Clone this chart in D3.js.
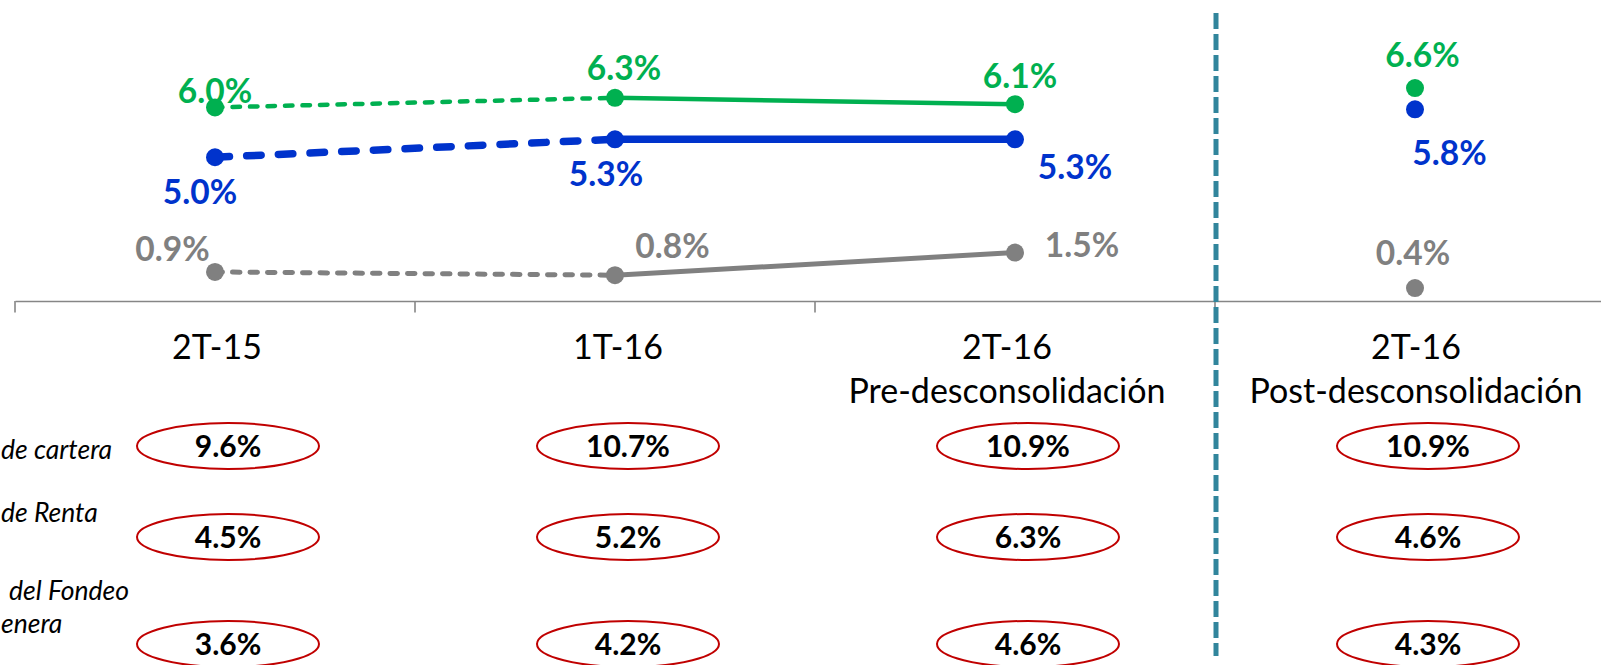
<!DOCTYPE html>
<html>
<head>
<meta charset="utf-8">
<script src="https://cdn.jsdelivr.net/npm/d3@7"></script>
<style>
  html, body { margin: 0; padding: 0; background: #ffffff; }
  svg { display: block; }
</style>
</head>
<body>
<svg id="chart" width="1601" height="665"></svg>
<script>
// Categories: the first word is the period, the rest (if any) a second line.
const categories = ["2T-15", "1T-16", "2T-16 Pre-desconsolidación", "2T-16 Post-desconsolidación"];

// Line series (%)
const greenValues = [6.0, 6.3, 6.1, 6.6];
const blueValues  = [5.0, 5.3, 5.3, 5.8];
const greyValues  = [0.9, 0.8, 1.5, 0.4];

// Table rows beneath the axis (%)
const rowLabels = [["de cartera"], ["de Renta"], ["del Fondeo", "enera"]];
const carteraValues = [9.6, 10.7, 10.9, 10.9];
const rentaValues   = [4.5, 5.2, 6.3, 4.6];
const fondeoValues  = [3.6, 4.2, 4.6, 4.3];

// ---- layout ----
const W = 1601, H = 665;
const svg = d3.select("#chart");
const FONT = "Lato, 'Open Sans', sans-serif";
const COLORS = { green: "#00B050", blue: "#0033CC", grey: "#808080" };

const x = d3.scaleBand().domain(categories).range([15, 1615]).padding(0);
const cx = d => x(d) + x.bandwidth() / 2;

// primary axis (green, grey) and secondary axis (blue)
const y  = d3.scaleLinear().domain([0, 7]).range([301, 75.2]);
const y2 = d3.scaleLinear().domain([2.6, 6.37]).range([301, 75.2]);

// segment styles between consecutive categories (last category stands alone)
const segmentDash = ["dashed", "solid"];

const seriesDefs = [
  { key: "grey",  values: greyValues,  scale: y,  width: 5,   dash: "7.5,10",   r: 9,
    nudges: [[-42.5, -10.5], [57.5, -17], [67, 4], [-2, -23]] },
  { key: "green", values: greenValues, scale: y,  width: 4.5, dash: "7.5,10",   r: 9,
    nudges: [[0, -4.5], [9, -17.3], [5, -16], [7.5, -21.6]] },
  { key: "blue",  values: blueValues,  scale: y2, width: 7.5, dash: "14.5,17.2", r: 9,
    nudges: [[-15, 46.5], [-9, 46.5], [60, 40], [34.5, 56]] }
];

// ---- category axis ----
const axisG = svg.append("g").attr("transform", `translate(0,${y(0)})`);
axisG.call(d3.axisBottom(x).tickSize(0).tickSizeOuter(0).tickFormat(""));
axisG.select(".domain").attr("stroke", "#868686").attr("stroke-width", 1.6);
// tick marks sit on band boundaries
axisG.selectAll("line.boundary")
  .data(categories)
  .join("line")
  .attr("class", "boundary")
  .attr("x1", d => x(d)).attr("x2", d => x(d))
  .attr("y1", 0).attr("y2", 11.5)
  .attr("stroke", "#868686").attr("stroke-width", 1.6);

// category labels
const catText = axisG.selectAll("text.cat")
  .data(categories)
  .join("text")
  .attr("class", "cat")
  .attr("text-anchor", "middle")
  .attr("font-family", FONT)
  .attr("font-size", 34)
  .attr("fill", "#000");
catText.each(function(d, i) {
  const sp = d.indexOf(" ");
  const lines = sp < 0 ? [d] : [d.slice(0, sp), d.slice(sp + 1)];
  const t = d3.select(this);
  const tx = cx(d) + [2, 3, -8, 1][i];
  lines.forEach((ln, k) => {
    t.append("tspan").attr("x", tx).attr("y", 58 + k * 44).text(ln);
  });
});

// ---- separator (dashed teal vertical) ----
svg.append("line")
  .attr("x1", x(categories[3]) + 1).attr("x2", x(categories[3]) + 1)
  .attr("y1", 13).attr("y2", 656)
  .attr("stroke", "#31859C").attr("stroke-width", 5)
  .attr("stroke-dasharray", "16,5");

// ---- series lines, markers, labels ----
seriesDefs.forEach(s => {
  const g = svg.append("g");
  const pts = s.values.map((v, i) => [cx(categories[i]), s.scale(v)]);
  const line = d3.line();
  segmentDash.forEach((style, i) => {
    g.append("path")
      .attr("d", line([pts[i], pts[i + 1]]))
      .attr("fill", "none")
      .attr("stroke", COLORS[s.key])
      .attr("stroke-width", s.width)
      .attr("stroke-linecap", style === "dashed" ? "round" : "butt")
      .attr("stroke-dasharray", style === "dashed" ? s.dash : null);
  });
  g.selectAll("circle")
    .data(s.values)
    .join("circle")
    .attr("cx", (v, i) => cx(categories[i]))
    .attr("cy", v => s.scale(v))
    .attr("r", s.r)
    .attr("fill", COLORS[s.key]);
  g.selectAll("text")
    .data(s.values)
    .join("text")
    .attr("x", (v, i) => cx(categories[i]) + s.nudges[i][0])
    .attr("y", (v, i) => s.scale(v) + s.nudges[i][1])
    .attr("text-anchor", "middle")
    .attr("font-family", FONT)
    .attr("font-weight", 700)
    .attr("font-size", 33.5)
    .attr("fill", COLORS[s.key])
    .text(v => v.toFixed(1) + "%");
});

// ---- table rows with circled values ----
const rows = [
  { values: carteraValues, cy: 446, label: rowLabels[0], labelEnd: [112], labelY: [459] },
  { values: rentaValues,   cy: 537, label: rowLabels[1], labelEnd: [96],  labelY: [521.5] },
  { values: fondeoValues,  cy: 644, label: rowLabels[2], labelEnd: [129, 55], labelY: [600, 633] }
];
rows.forEach(row => {
  const g = svg.append("g");
  row.label.forEach((ln, k) => {
    const t = g.append("text")
      .attr("x", row.labelEnd[k]).attr("y", row.labelY[k])
      .attr("text-anchor", "end")
      .attr("font-family", FONT)
      .attr("font-style", "italic")
      .attr("font-size", 26.5)
      .attr("fill", "#000")
      .text(ln);
    // keep the label inside the left edge
    const len = t.node().getComputedTextLength();
    if (row.labelEnd[k] - len < 1) t.attr("x", len + 1);
  });
  g.selectAll("ellipse")
    .data(row.values)
    .join("ellipse")
    .attr("cx", (v, i) => cx(categories[i]) + 13)
    .attr("cy", row.cy)
    .attr("rx", 91).attr("ry", 23)
    .attr("fill", "none")
    .attr("stroke", "#C00000")
    .attr("stroke-width", 2);
  g.selectAll("text.val")
    .data(row.values)
    .join("text")
    .attr("class", "val")
    .attr("x", (v, i) => cx(categories[i]) + 13)
    .attr("y", row.cy + 11)
    .attr("text-anchor", "middle")
    .attr("font-family", FONT)
    .attr("font-weight", 700)
    .attr("font-size", 30)
    .attr("fill", "#000")
    .text(v => v.toFixed(1) + "%");
});
</script>
</body>
</html>
